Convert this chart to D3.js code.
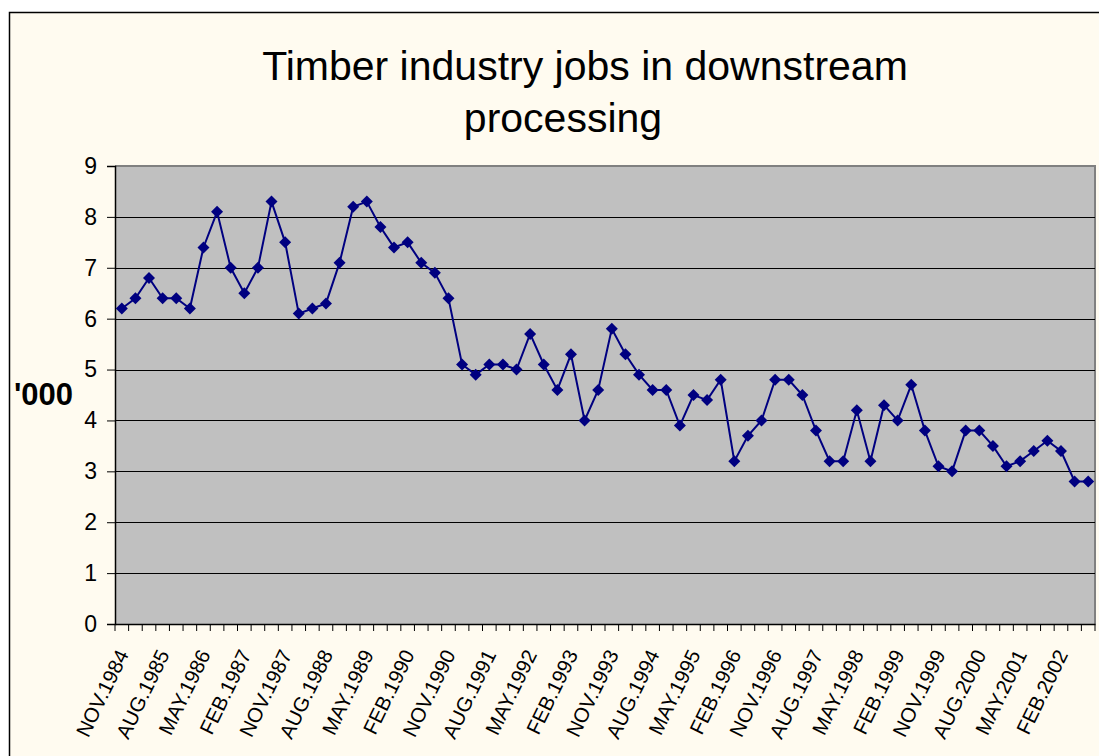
<!DOCTYPE html>
<html><head><meta charset="utf-8">
<script src="https://cdn.jsdelivr.net/npm/d3@7/dist/d3.min.js"></script>
<style>body{margin:0;background:#fff;}svg{display:block;}</style>
</head><body>
<script>
const categories = (function(){
  const m = ["FEB","MAY","AUG","NOV"];
  const out = [];
  let q = 3, y = 1984;
  for (let i = 0; i < 72; i++) { out.push(m[q] + "." + y); q++; if (q > 3) { q = 0; y++; } }
  return out;
})();
const values = [6.2,6.4,6.8,6.4,6.4,6.2,7.4,8.1,7.0,6.5,7.0,8.3,7.5,6.1,6.2,6.3,7.1,8.2,
  8.3,7.8,7.4,7.5,7.1,6.9,6.4,5.1,4.9,5.1,5.1,5.0,5.7,5.1,4.6,5.3,4.0,4.6,
  5.8,5.3,4.9,4.6,4.6,3.9,4.5,4.4,4.8,3.2,3.7,4.0,4.8,4.8,4.5,3.8,3.2,3.2,
  4.2,3.2,4.3,4.0,4.7,3.8,3.1,3.0,3.8,3.8,3.5,3.1,3.2,3.4,3.6,3.4,2.8,2.8];
const yTicks = [0,1,2,3,4,5,6,7,8,9];
const labelEvery = 3;
const titleLines = ["Timber industry jobs in downstream", "processing"];
const yTitle = "'000";

const W = 1099, H = 756;
const L = 115, R = 1095, T = 166, B = 624;
const svg = d3.select("body").append("svg").attr("width", W).attr("height", H);
svg.append("rect").attr("x", 9.5).attr("y", 12.5).attr("width", W + 20).attr("height", H + 20)
  .attr("fill", "#FFFBF0").attr("stroke", "#000").attr("stroke-width", 1.5);

const x = d3.scaleBand().domain(categories).range([L, R]).padding(0);
const y = d3.scaleLinear().domain([0, 9]).range([B, T]);

svg.append("rect").attr("x", L).attr("y", T).attr("width", R - L).attr("height", B - T).attr("fill", "#C0C0C0");
svg.append("path").attr("d", `M${L},${T}H${R}V${B}`).attr("fill", "none").attr("stroke", "#808080").attr("stroke-width", 2);

svg.append("g").selectAll("line").data(yTicks.filter(d => d > 0 && d < 9)).join("line")
  .attr("x1", L).attr("x2", R).attr("y1", d => Math.round(y(d)) + 0.5).attr("y2", d => Math.round(y(d)) + 0.5)
  .attr("stroke", "#000").attr("stroke-width", 1);

// Y axis
const yAxis = svg.append("g").attr("transform", `translate(${L},0)`)
  .call(d3.axisLeft(y).tickValues(yTicks).tickSize(8).tickPadding(10).tickFormat(d3.format("d")));
yAxis.select(".domain").attr("stroke", "#000").attr("stroke-width", 1.5);
yAxis.selectAll("line").attr("stroke", "#000");
yAxis.selectAll("text").attr("font-family", "Liberation Sans, Arial, sans-serif").attr("font-size", 23).attr("fill", "#000");

// X axis
const xAxis = svg.append("g").attr("transform", `translate(0,${B})`)
  .call(d3.axisBottom(x).tickSize(0).tickFormat(""));
xAxis.select(".domain").attr("stroke", "#000").attr("stroke-width", 1.5);
xAxis.selectAll(".tick").remove();
const bounds = categories.map(c => x(c)).concat([R]);
xAxis.selectAll("line.tk").data(bounds).join("line").attr("class", "tk")
  .attr("x1", d => d).attr("x2", d => d).attr("y1", 0).attr("y2", 7).attr("stroke", "#000");
xAxis.selectAll("text.lb").data(categories.filter((c, i) => i % labelEvery === 0)).join("text").attr("class", "lb")
  .attr("transform", d => `translate(${x(d) + x.bandwidth() / 2 + 1},${27}) rotate(-64)`)
  .attr("text-anchor", "end").attr("dy", "0.35em")
  .attr("font-family", "Liberation Sans, Arial, sans-serif").attr("font-size", 20.5).attr("fill", "#000")
  .text(d => d);

// Line + markers
const cx = (d, i) => x(categories[i]) + x.bandwidth() / 2;
svg.append("path").datum(values)
  .attr("d", d3.line().x(cx).y(d => y(d)))
  .attr("fill", "none").attr("stroke", "#000080").attr("stroke-width", 2);
svg.append("g").selectAll("path").data(values).join("path")
  .attr("transform", (d, i) => `translate(${cx(d, i)},${y(d)})`)
  .attr("d", "M0,-6L6,0L0,6L-6,0Z").attr("fill", "#000080");

// Titles
svg.append("g").selectAll("text").data(titleLines).join("text")
  .attr("x", (d, i) => i === 0 ? 585 : 563).attr("y", (d, i) => 80 + i * 52).attr("text-anchor", "middle")
  .attr("font-family", "Liberation Sans, Arial, sans-serif").attr("font-size", 41).attr("fill", "#000")
  .text(d => d);
svg.append("text").attr("x", 14).attr("y", 405).attr("font-family", "Liberation Sans, Arial, sans-serif")
  .attr("font-size", 31).attr("font-weight", "bold").attr("fill", "#000").text(yTitle);
</script>
</body></html>
